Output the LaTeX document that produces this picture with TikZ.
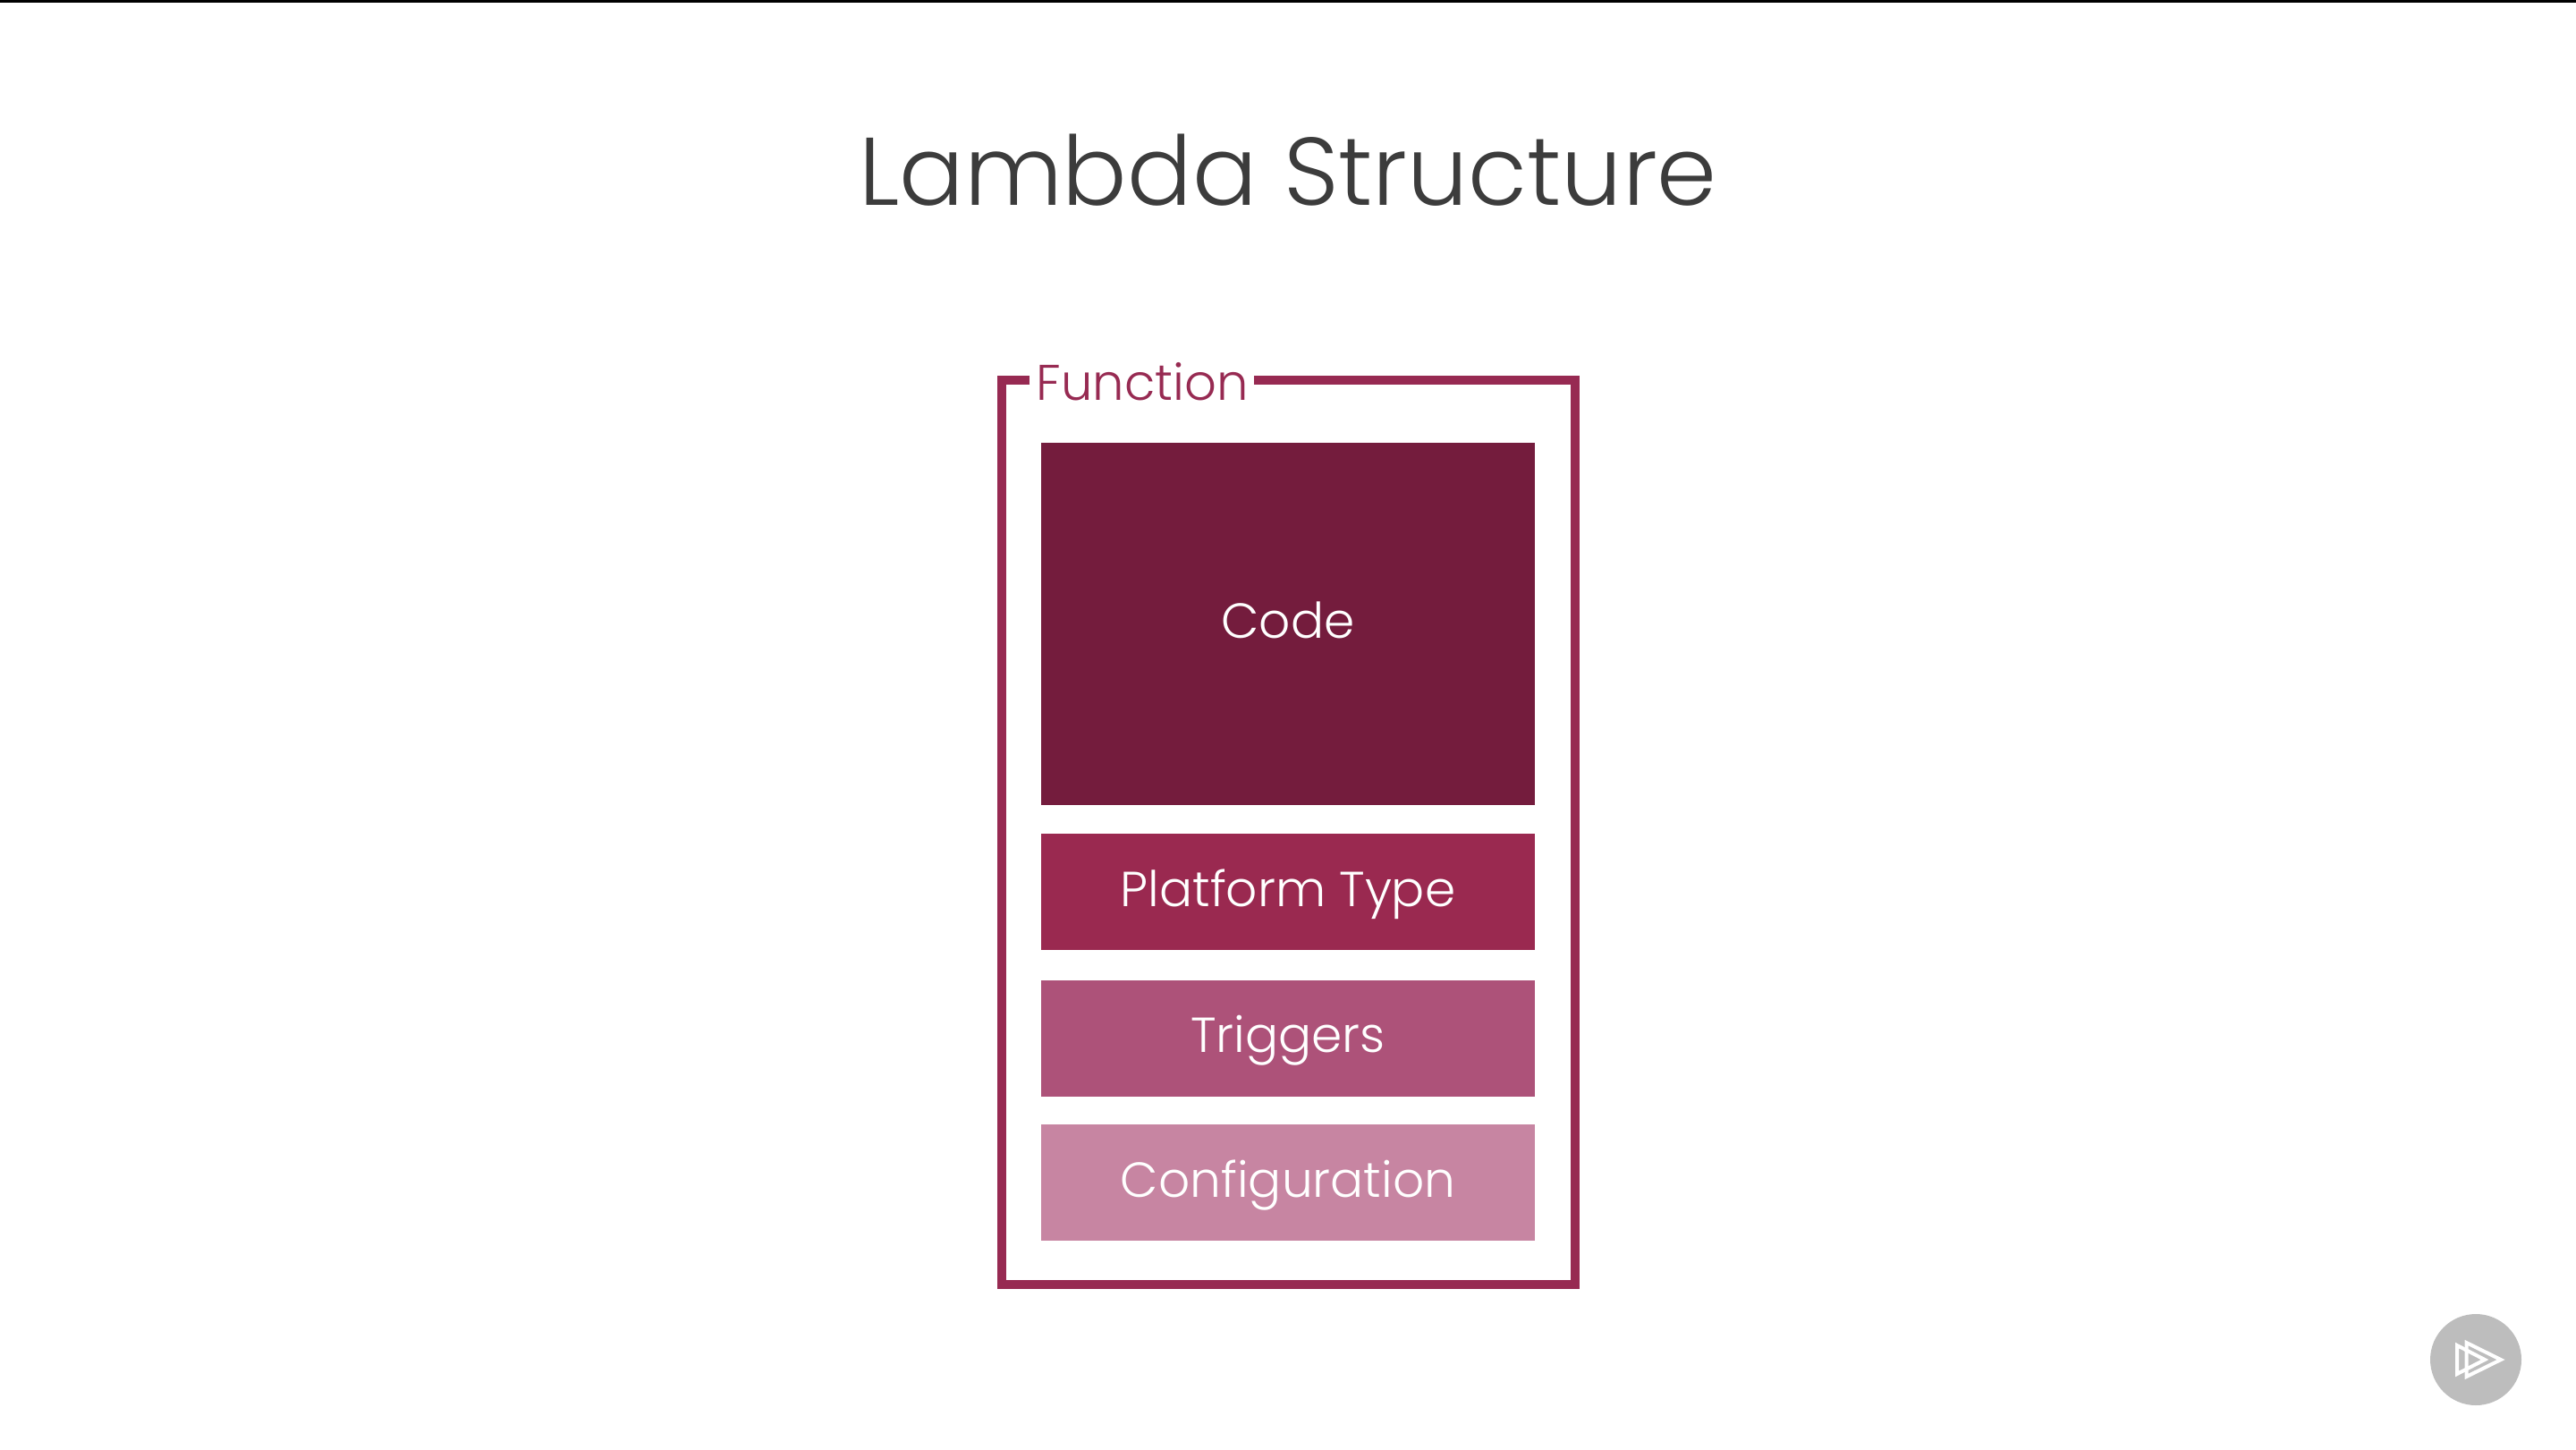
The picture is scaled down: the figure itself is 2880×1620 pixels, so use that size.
\documentclass[tikz,border=0pt]{standalone}
\usepackage{fontspec}
\setmainfont{Poppins}
\newfontfamily\titlefont{Poppins Light}
\definecolor{framecol}{HTML}{972A52}
\definecolor{codecol}{HTML}{741C3D}
\definecolor{platcol}{HTML}{9A2950}
\definecolor{trigcol}{HTML}{AD5279}
\definecolor{confcol}{HTML}{C785A2}
\definecolor{titlecol}{HTML}{3C3C3C}
\definecolor{badgecol}{HTML}{BDBDBD}
\tikzset{
  x=1pt,y=-1pt,
  blockbox/.style={rectangle,draw=none,inner sep=0pt,minimum width=552pt,text=white,text height=38pt,text depth=6pt,font=\titlefont\fontsize{55}{60}\selectfont},
  framepath/.style={draw=framecol,line width=10pt,miter limit=10},
  logotri/.style={draw=white,line width=4pt,line join=miter},
}
\begin{document}
\begin{tikzpicture}
\useasboundingbox (0,0) rectangle (2880,1620);
\fill[white] (0,0) rectangle (2880,1620);
\fill[black] (0,0) rectangle (2880,3);
\node[text=titlecol,font=\titlefont\fontsize{107.5}{120}\selectfont,inner sep=0pt] (title) at (1440,190) {Lambda Structure};
\coordinate (fa) at (1151,425);
\coordinate (fb) at (1119.5,425);
\coordinate (fc) at (1119.5,1436);
\coordinate (fd) at (1760.5,1436);
\coordinate (fe) at (1760.5,425);
\coordinate (ff) at (1402,425);
\draw[framepath] (fa) -- (fb) -- (fc) -- (fd) -- (fe) -- (ff);
\node[text=framecol,font=\titlefont\fontsize{56}{60}\selectfont,inner sep=0pt] (function) at (1277,427) {Function};
\node[blockbox,fill=codecol,minimum height=405pt] (code) at (1440,697.5) {Code};
\node[blockbox,fill=platcol,minimum height=130pt] (platform) at (1440,997) {Platform Type};
\node[blockbox,fill=trigcol,minimum height=130pt] (triggers) at (1440,1160.5) {Triggers};
\node[blockbox,fill=confcol,minimum height=130pt] (config) at (1440,1322) {Configuration};
\fill[badgecol] (2768,1520) circle (51);
\draw[logotri] (2747,1504) -- (2778,1520) -- (2747,1536) -- cycle;
\draw[logotri] (2757.5,1501) -- (2796,1520) -- (2757.5,1539) -- cycle;
\end{tikzpicture}
\end{document}
